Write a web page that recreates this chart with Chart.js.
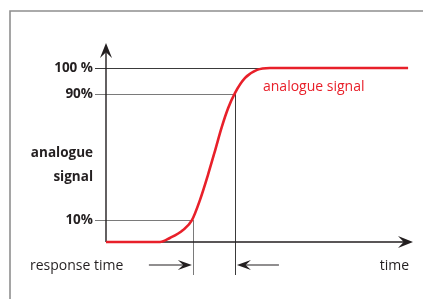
<!DOCTYPE html>
<html lang="en">
<head>
<meta charset="UTF-8">
<title>Response time</title>
<script src="https://cdn.jsdelivr.net/npm/chart.js"></script>
<style>
  body { margin: 0; background: #fff; }
  #wrap { width: 423px; height: 299px; }
</style>
</head>
<body>
<div id="wrap"><canvas id="grafico" width="423" height="299"></canvas></div>
<script>
// curve (time in arbitrary units 0..100, signal 0..100)
const timeVals   = [0, 17.6, 20.8, 25.1, 28.0, 30.6, 33.2, 35.6, 37.7, 39.8, 42.0, 45.3, 49.2, 53.4, 98.4];
const signalVals = [0, 0, 2.3, 6.9, 12.6, 24.1, 38.5, 53.0, 66.0, 77.0, 85.6, 94.3, 98.9, 100, 100];

// level marks on the y axis (schematic, not to scale)
const levelVals   = [100, 85.1, 12.6];
const levelLabels = ['100 %', '90%', '10%'];
const levelEnds   = [53.4, 42.0, 28.3];   // time where each guide meets the curve
const responseMarks = [28.3, 42.0];       // 10% and 90% crossings

const yTitle = ['analogue', 'signal'];
const xTitle = 'time';
const seriesName = 'analogue signal';
const spanName = 'response time';

const ink = '#231f20';
const red = '#e8202a';

function arrowHead(ctx, x, y, dx, dy, len, w) {
    // barbed arrow head, tip at (x,y), pointing along (dx,dy)
    const px = -dy, py = dx;
    ctx.beginPath();
    ctx.moveTo(x, y);
    ctx.lineTo(x - dx * len + px * w, y - dy * len + py * w);
    ctx.lineTo(x - dx * len * 0.62, y - dy * len * 0.62);
    ctx.lineTo(x - dx * len - px * w, y - dy * len - py * w);
    ctx.closePath();
    ctx.fill();
}

const desenho = {
    id: 'desenho',
    beforeDatasetsDraw(chart) {
        const ctx = chart.ctx;
        const xs = chart.scales.x, ys = chart.scales.y;
        const x0 = xs.getPixelForValue(0);
        const y0 = ys.getPixelForValue(0);
        ctx.save();

        // frame
        ctx.strokeStyle = '#8f8f8f';
        ctx.lineWidth = 1.6;
        ctx.beginPath();
        ctx.moveTo(10, 299);
        ctx.lineTo(10, 11);
        ctx.lineTo(423, 11);
        ctx.stroke();

        // guide lines
        ctx.lineWidth = 1;
        levelVals.forEach(function (v, i) {
            const py = Math.round(ys.getPixelForValue(v)) + 0.5;
            ctx.strokeStyle = i === 0 ? '#3a3a3a' : '#7a7a7a';
            ctx.beginPath();
            ctx.moveTo(x0 - 11, py);
            ctx.lineTo(xs.getPixelForValue(levelEnds[i]), py);
            ctx.stroke();
        });
        responseMarks.forEach(function (t, i) {
            const px = Math.round(xs.getPixelForValue(t)) + 0.5;
            const top = ys.getPixelForValue(i === 0 ? levelVals[2] : levelVals[1]);
            ctx.strokeStyle = i === 0 ? '#7a7a7a' : '#3a3a3a';
            ctx.beginPath();
            ctx.moveTo(px, top);
            ctx.lineTo(px, y0 + 33);
            ctx.stroke();
        });

        // axes
        ctx.strokeStyle = ink;
        ctx.fillStyle = ink;
        ctx.lineWidth = 1.4;
        const yTop = ys.top - 25;
        const xEnd = xs.right;
        ctx.beginPath();
        ctx.moveTo(x0, y0);
        ctx.lineTo(x0, yTop + 8);
        ctx.moveTo(x0, y0);
        ctx.lineTo(xEnd - 8, y0);
        ctx.stroke();
        arrowHead(ctx, x0, yTop, 0, -1, 15, 6);
        arrowHead(ctx, xEnd, y0, 1, 0, 15, 6);

        // response time arrows
        const ay = y0 + 23;
        const m1 = xs.getPixelForValue(responseMarks[0]);
        const m2 = xs.getPixelForValue(responseMarks[1]);
        ctx.lineWidth = 1.2;
        ctx.beginPath();
        ctx.moveTo(m1 - 44, ay);
        ctx.lineTo(m1 - 8, ay);
        ctx.moveTo(m2 + 44, ay);
        ctx.lineTo(m2 + 8, ay);
        ctx.stroke();
        arrowHead(ctx, m1 - 1, ay, 1, 0, 14, 5);
        arrowHead(ctx, m2 + 2, ay, -1, 0, 14, 5);
        ctx.restore();
    },
    afterDatasetsDraw(chart) {
        const ctx = chart.ctx;
        const xs = chart.scales.x, ys = chart.scales.y;
        const x0 = xs.getPixelForValue(0);
        const y0 = ys.getPixelForValue(0);
        ctx.save();
        ctx.textBaseline = 'middle';
        ctx.fillStyle = ink;
        ctx.textAlign = 'right';
        ctx.font = 'bold 13.5px "Open Sans"';
        levelVals.forEach(function (v, i) {
            ctx.fillText(levelLabels[i], x0 - 13, ys.getPixelForValue(v));
        });
        ctx.fillText(yTitle[0], x0 - 13, 153);
        ctx.fillText(yTitle[1], x0 - 13, 177);

        ctx.font = '14px "Open Sans"';
        ctx.textAlign = 'left';
        ctx.fillText(spanName, 30, y0 + 24);
        ctx.textAlign = 'right';
        ctx.fillText(xTitle, 409, y0 + 24);

        ctx.fillStyle = red;
        ctx.textAlign = 'left';
        ctx.fillText(seriesName, 263, 87);
        ctx.restore();
    }
};

const chart = new Chart('grafico', {
    type: 'line',
    data: {
        datasets: [{
            label: seriesName,
            data: timeVals.map(function (t, i) { return { x: t, y: signalVals[i] }; }),
            borderColor: red,
            borderWidth: 2.6,
            pointRadius: 0,
            cubicInterpolationMode: 'monotone',
            fill: false,
            clip: false
        }]
    },
    options: {
        responsive: false,
        animation: false,
        layout: { padding: { left: 106, right: 10, top: 68, bottom: 57 } },
        scales: {
            x: { type: 'linear', min: 0, max: 100, display: false },
            y: { min: 0, max: 100, display: false }
        },
        plugins: {
            legend: { display: false },
            tooltip: { enabled: false }
        }
    },
    plugins: [desenho]
});
</script>
</body>
</html>
